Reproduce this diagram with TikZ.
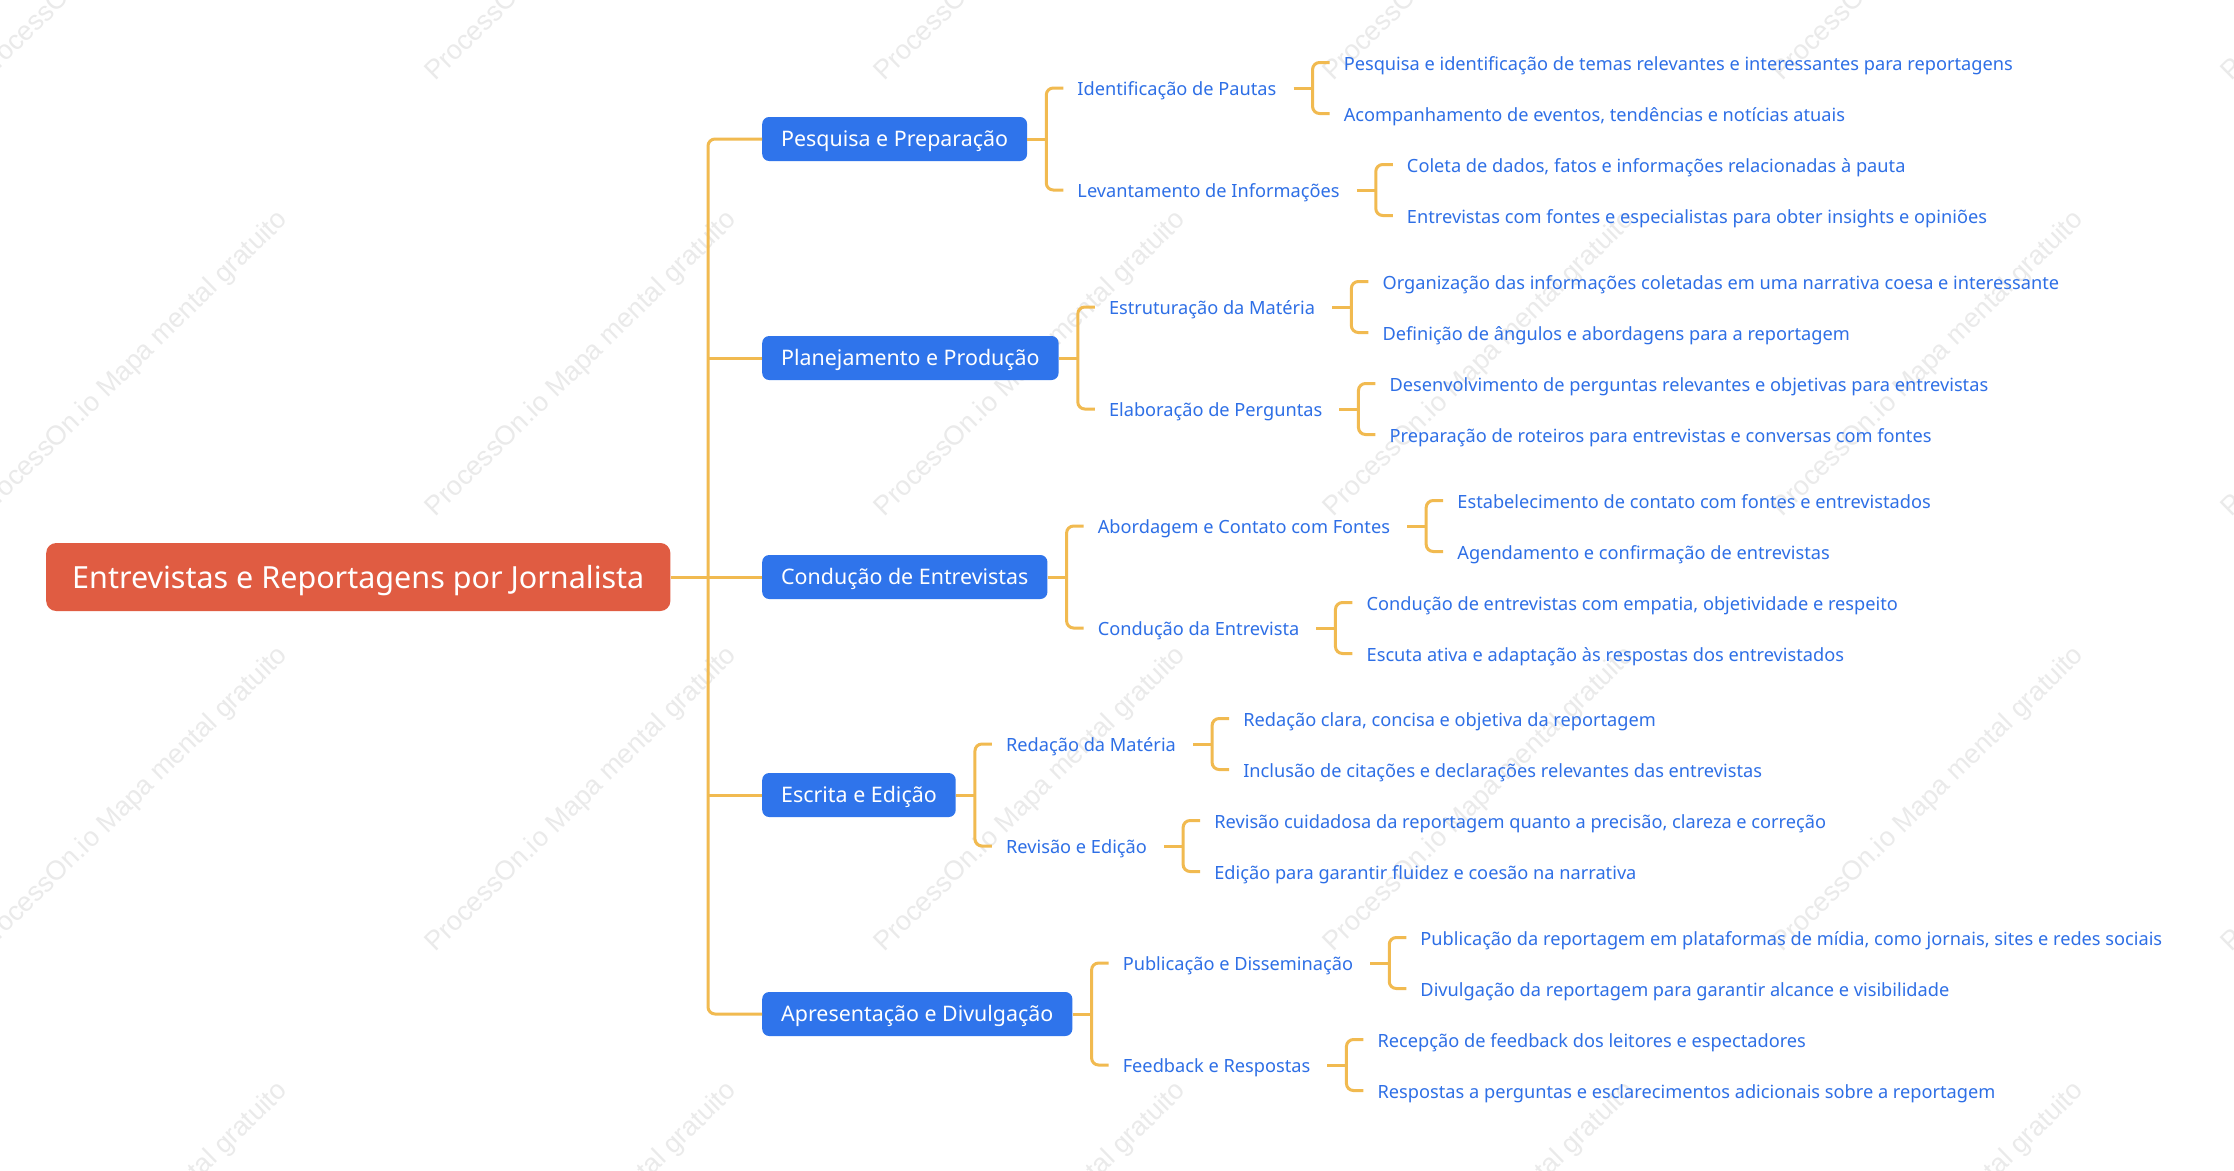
\documentclass[tikz,border=0pt]{standalone}
\usepackage{fontspec}
\setmainfont{Noto Sans}
\newfontfamily\markfont{Liberation Sans}
\usetikzlibrary{positioning}
\definecolor{rootred}{HTML}{E05C42}
\definecolor{boxblue}{HTML}{2F74EB}
\definecolor{textblue}{HTML}{2E6FE6}
\definecolor{linegold}{HTML}{F1BA50}
\definecolor{markgray}{HTML}{EAEAEA}
\tikzset{
  rootbox/.style={fill=rootred, text=white, rounded corners=10pt, font=\fontsize{30.5}{34}\selectfont, text height=23pt, text depth=0pt, minimum height=68pt, inner xsep=26pt, anchor=west},
  topicbox/.style={fill=boxblue, text=white, rounded corners=7pt, font=\fontsize{21.4}{25}\selectfont, text height=16pt, text depth=1.6pt, minimum height=44pt, inner xsep=19pt, anchor=west},
  subtopic/.style={text=textblue, font=\fontsize{18.2}{22}\selectfont, inner sep=0pt, text height=16.5pt, text depth=1pt, anchor=west},
  detail/.style={text=textblue, font=\fontsize{18.2}{22}\selectfont, inner sep=0pt, text height=16.5pt, text depth=1pt, anchor=west},
  branch/.style={draw=linegold, line width=3pt, rounded corners=7pt},
  watermark/.style={text=markgray, font=\markfont\fontsize{27}{30}\selectfont, inner sep=0pt, anchor=base west, rotate=44.4},
}
% bracket joining two children
\newcommand{\forkdraw}[2]{\draw[branch] ([xshift=-14pt]#1.west) -- ([xshift=-31pt]#1.west) -- ([xshift=-31pt]#2.west) -- ([xshift=-14pt]#2.west);}
\begin{document}
\begin{tikzpicture}[x=1pt, y=-1pt]
\fill[white] (0,0) rectangle (2234,1170);
\useasboundingbox (0,0) rectangle (2234,1170);
% watermark behind everything
\foreach \mx in {-14,435,884,1333,1782,2231}
  \foreach \my in {82,517.5,953,1388.5}
    \node[watermark] at (\mx,\my) {ProcessOn.io Mapa mental gratuito};
\node[rootbox] (root) at (46,577) {Entrevistas e Reportagens por Jornalista};
\coordinate (trunk) at (708,577);
\node[topicbox] (pesq) at (762,139) {Pesquisa e Preparação};
\node[topicbox] (plan) at (762,358) {Planejamento e Produção};
\node[topicbox] (cond) at (762,577) {Condução de Entrevistas};
\node[topicbox] (escr) at (762,795) {Escrita e Edição};
\node[topicbox] (apre) at (762,1014) {Apresentação e Divulgação};
\draw[branch] (root.east) -- (cond.west);
\draw[branch] (pesq.west) -- (pesq.west -| trunk) -- (apre.west -| trunk) -- (apre.west);
\draw[branch] (plan.west) -- (plan.west -| trunk);
\draw[branch] (escr.west) -- (escr.west -| trunk);
% second level
\node[subtopic] (pautas) at ([xshift=50pt, yshift=51pt]pesq.east) {Identificação de Pautas};
\node[subtopic] (levant) at ([xshift=50pt, yshift=-51pt]pesq.east) {Levantamento de Informações};
\node[subtopic] (estru) at ([xshift=50pt, yshift=51pt]plan.east) {Estruturação da Matéria};
\node[subtopic] (elab) at ([xshift=50pt, yshift=-51pt]plan.east) {Elaboração de Perguntas};
\node[subtopic] (abord) at ([xshift=50pt, yshift=51pt]cond.east) {Abordagem e Contato com Fontes};
\node[subtopic] (entrev) at ([xshift=50pt, yshift=-51pt]cond.east) {Condução da Entrevista};
\node[subtopic] (redac) at ([xshift=50pt, yshift=51pt]escr.east) {Redação da Matéria};
\node[subtopic] (revis) at ([xshift=50pt, yshift=-51pt]escr.east) {Revisão e Edição};
\node[subtopic] (publ) at ([xshift=50pt, yshift=51pt]apre.east) {Publicação e Disseminação};
\node[subtopic] (feed) at ([xshift=50pt, yshift=-51pt]apre.east) {Feedback e Respostas};
\draw[branch] (pesq.east) -- ++(19,0);
\forkdraw{pautas}{levant}
\draw[branch] (plan.east) -- ++(19,0);
\forkdraw{estru}{elab}
\draw[branch] (cond.east) -- ++(19,0);
\forkdraw{abord}{entrev}
\draw[branch] (escr.east) -- ++(19,0);
\forkdraw{redac}{revis}
\draw[branch] (apre.east) -- ++(19,0);
\forkdraw{publ}{feed}
% third level
\node[detail] (pautasA) at ([xshift=67pt, yshift=25.5pt]pautas.east) {Pesquisa e identificação de temas relevantes e interessantes para reportagens};
\node[detail] (pautasB) at ([xshift=67pt, yshift=-25.5pt]pautas.east) {Acompanhamento de eventos, tendências e notícias atuais};
\node[detail] (levantA) at ([xshift=67pt, yshift=25.5pt]levant.east) {Coleta de dados, fatos e informações relacionadas à pauta};
\node[detail] (levantB) at ([xshift=67pt, yshift=-25.5pt]levant.east) {Entrevistas com fontes e especialistas para obter insights e opiniões};
\node[detail] (estruA) at ([xshift=67pt, yshift=25.5pt]estru.east) {Organização das informações coletadas em uma narrativa coesa e interessante};
\node[detail] (estruB) at ([xshift=67pt, yshift=-25.5pt]estru.east) {Definição de ângulos e abordagens para a reportagem};
\node[detail] (elabA) at ([xshift=67pt, yshift=25.5pt]elab.east) {Desenvolvimento de perguntas relevantes e objetivas para entrevistas};
\node[detail] (elabB) at ([xshift=67pt, yshift=-25.5pt]elab.east) {Preparação de roteiros para entrevistas e conversas com fontes};
\node[detail] (abordA) at ([xshift=67pt, yshift=25.5pt]abord.east) {Estabelecimento de contato com fontes e entrevistados};
\node[detail] (abordB) at ([xshift=67pt, yshift=-25.5pt]abord.east) {Agendamento e confirmação de entrevistas};
\node[detail] (entrevA) at ([xshift=67pt, yshift=25.5pt]entrev.east) {Condução de entrevistas com empatia, objetividade e respeito};
\node[detail] (entrevB) at ([xshift=67pt, yshift=-25.5pt]entrev.east) {Escuta ativa e adaptação às respostas dos entrevistados};
\node[detail] (redacA) at ([xshift=67pt, yshift=25.5pt]redac.east) {Redação clara, concisa e objetiva da reportagem};
\node[detail] (redacB) at ([xshift=67pt, yshift=-25.5pt]redac.east) {Inclusão de citações e declarações relevantes das entrevistas};
\node[detail] (revisA) at ([xshift=67pt, yshift=25.5pt]revis.east) {Revisão cuidadosa da reportagem quanto a precisão, clareza e correção};
\node[detail] (revisB) at ([xshift=67pt, yshift=-25.5pt]revis.east) {Edição para garantir fluidez e coesão na narrativa};
\node[detail] (publA) at ([xshift=67pt, yshift=25.5pt]publ.east) {Publicação da reportagem em plataformas de mídia, como jornais, sites e redes sociais};
\node[detail] (publB) at ([xshift=67pt, yshift=-25.5pt]publ.east) {Divulgação da reportagem para garantir alcance e visibilidade};
\node[detail] (feedA) at ([xshift=67pt, yshift=25.5pt]feed.east) {Recepção de feedback dos leitores e espectadores};
\node[detail] (feedB) at ([xshift=67pt, yshift=-25.5pt]feed.east) {Respostas a perguntas e esclarecimentos adicionais sobre a reportagem};
\foreach \a in {pautas, levant, estru, elab, abord, entrev, redac, revis, publ, feed} {
  \draw[branch] ([xshift=17pt]\a.east) -- ++(19,0);
  \forkdraw{\a A}{\a B}
}
\end{tikzpicture}
\end{document}
